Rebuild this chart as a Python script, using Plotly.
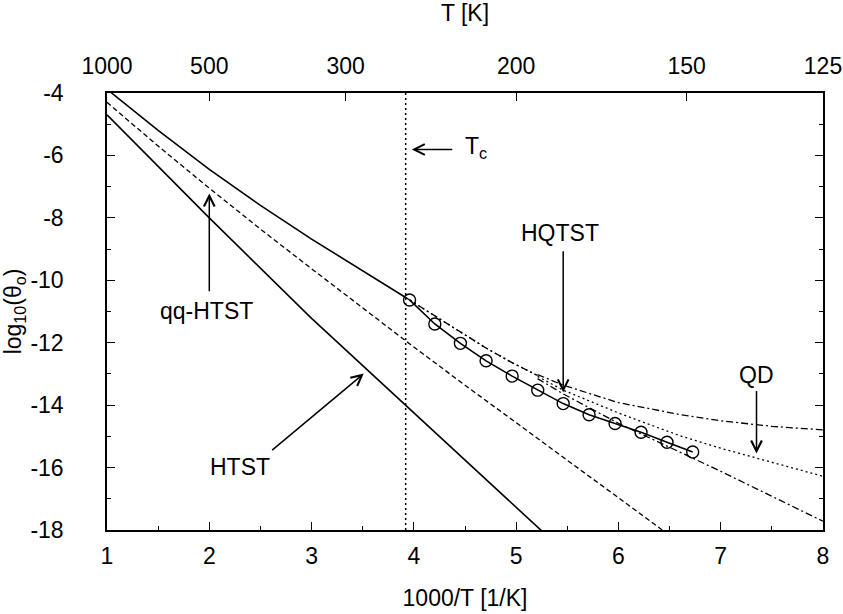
import plotly.graph_objects as go

# ---- data ----
tc_x = 3.92

upper_x = [1.0, 1.5, 2.0, 2.5, 3.0, 3.5, 3.92]
upper_y = [-3.88, -5.20, -6.45, -7.60, -8.68, -9.70, -10.55]

band_x = [3.92, 4.2, 4.45, 4.7, 4.96, 5.21]
band_y = [-10.55, -11.12, -11.65, -12.16, -12.64, -13.05]

dd_up_x = [5.21, 5.46, 6.0, 6.6, 7.0, 7.5, 8.0]
dd_up_y = [-13.02, -13.36, -13.92, -14.30, -14.50, -14.68, -14.79]

dot_x = [5.21, 5.46, 6.0, 6.6, 7.0, 7.35, 8.0]
dot_y = [-13.08, -13.52, -14.25, -14.98, -15.38, -15.70, -16.28]

dd_lo_x = [5.21, 5.46, 6.0, 6.6, 7.0, 8.0]
dd_lo_y = [-13.15, -13.64, -14.58, -15.50, -16.12, -17.72]

qq_x = [1.0, 1.5, 2.0, 2.5, 3.0, 3.5, 4.0, 4.5, 5.0, 5.5, 6.0, 6.5]
qq_y = [-4.30, -5.70, -7.05, -8.36, -9.63, -10.90, -12.14, -13.36, -14.57, -15.77, -16.97, -18.17]

htst_x = [1.0, 2.0, 3.0, 4.0, 5.0, 5.3]
htst_y = [-4.70, -8.00, -11.22, -14.24, -17.27, -18.18]

pts_x = [3.958, 4.205, 4.455, 4.706, 4.961, 5.211, 5.460, 5.713, 5.967, 6.221, 6.475, 6.726]
pts_y = [-10.63, -11.40, -12.02, -12.58, -13.07, -13.52, -13.95, -14.31, -14.59, -14.87, -15.19, -15.50]

top_T = [1000, 500, 300, 200, 150, 125]
x_ticks = [1, 2, 3, 4, 5, 6, 7, 8]
y_ticks = [-4, -6, -8, -10, -12, -14, -16, -18]

FONT = "Liberation Sans, Arial, sans-serif"
FS = 23
BLACK = "#000000"

fig = go.Figure()

def line(x, y, dash="solid", w=1.6):
    fig.add_trace(go.Scatter(x=x, y=y, mode="lines", showlegend=False, hoverinfo="skip",
                             line=dict(color=BLACK, width=w, dash=dash)))

line(upper_x, upper_y)
line(band_x, band_y, dash="7px,3px,2px,3px", w=1.3)
line(band_x, band_y, dash="2px,3px", w=1.3)
line(dd_up_x, dd_up_y, dash="7px,3px,2px,3px", w=1.3)
line(dot_x, dot_y, dash="2px,3px", w=1.3)
line(dd_lo_x, dd_lo_y, dash="7px,3px,2px,3px", w=1.3)
line(qq_x, qq_y, dash="5px,3px", w=1.3)
line(htst_x, htst_y, w=1.6)

fig.add_trace(go.Scatter(x=pts_x, y=pts_y, mode="lines+markers", showlegend=False, hoverinfo="skip",
                         line=dict(color=BLACK, width=1.6),
                         marker=dict(symbol="circle-open", size=12, color=BLACK, line=dict(width=1.4))))

# Tc vertical dotted line
line([tc_x, tc_x], [-18, -4], dash="2px,3px", w=1.5)

# dummy trace for top axis
fig.add_trace(go.Scatter(x=[1000 / t for t in top_T], y=[-30] * len(top_T), xaxis="x2", mode="markers",
                         marker=dict(opacity=0), showlegend=False, hoverinfo="skip"))

def arrow(x, y, ax, ay):
    fig.add_annotation(x=x, y=y, ax=ax, ay=ay, xref="x", yref="y", axref="x", ayref="y",
                       text="", showarrow=True, arrowhead=5, arrowsize=1.4, arrowwidth=1.5,
                       arrowcolor=BLACK)

def label(x, y, t):
    fig.add_annotation(x=x, y=y, xref="x", yref="y", text=t, showarrow=False,
                       font=dict(family=FONT, size=FS, color=BLACK))

arrow(3.98, -5.81, 4.39, -5.81)
fig.add_annotation(x=4.48, y=-5.75, xref="x", yref="y", text="T<sub>c</sub>", showarrow=False,
                   xanchor="left", font=dict(family=FONT, size=FS, color=BLACK))
arrow(5.46, -13.59, 5.46, -9.02)
label(5.43, -8.48, "HQTST")
arrow(7.35, -15.55, 7.35, -13.5)
label(7.35, -13.02, "QD")
arrow(2.0, -7.22, 2.0, -10.4)
label(1.975, -10.99, "qq-HTST")
arrow(3.51, -12.99, 2.60, -15.48)
label(2.30, -15.98, "HTST")

axis_common = dict(showgrid=False, zeroline=False, linecolor=BLACK, linewidth=1.5,
                   tickcolor=BLACK, tickwidth=1.3, ticks="inside", automargin=False,
                   tickfont=dict(family=FONT, size=FS, color=BLACK))

fig.update_layout(
    width=843, height=614,
    margin=dict(l=107, r=20, t=93, b=84),
    paper_bgcolor="white", plot_bgcolor="white",
    font=dict(family=FONT, size=FS, color=BLACK),
    xaxis=dict(range=[1, 8], tickvals=x_ticks, ticktext=[str(v) for v in x_ticks], ticklen=8,
               minor=dict(dtick=0.5, ticklen=4, tickcolor=BLACK, ticks="inside", tickwidth=1.3),
               mirror=True, showline=True,
               title=dict(text="1000/T [1/K]", standoff=22, font=dict(family=FONT, size=FS)),
               ticklabelstandoff=5, **axis_common),
    xaxis2=dict(range=[1, 8], overlaying="x", side="top", anchor="y",
                tickvals=[1000 / t for t in top_T], ticktext=[str(t) for t in top_T],
                ticklen=8, showline=False,
                title=dict(text="T [K]", standoff=25, font=dict(family=FONT, size=FS)),
                ticklabelstandoff=13, **axis_common),
    yaxis=dict(range=[-18, -4], tickvals=y_ticks, ticktext=[str(v) for v in y_ticks], ticklen=8,
               minor=dict(dtick=1, ticklen=4, tickcolor=BLACK, ticks="inside", tickwidth=1.3),
               mirror="ticks", showline=True,
               title=dict(text="log<sub>10</sub>(θ<sub>o</sub>)", standoff=4, font=dict(family=FONT, size=FS)),
               ticklabelstandoff=37, **axis_common),
)

fig.write_html("out.html")
